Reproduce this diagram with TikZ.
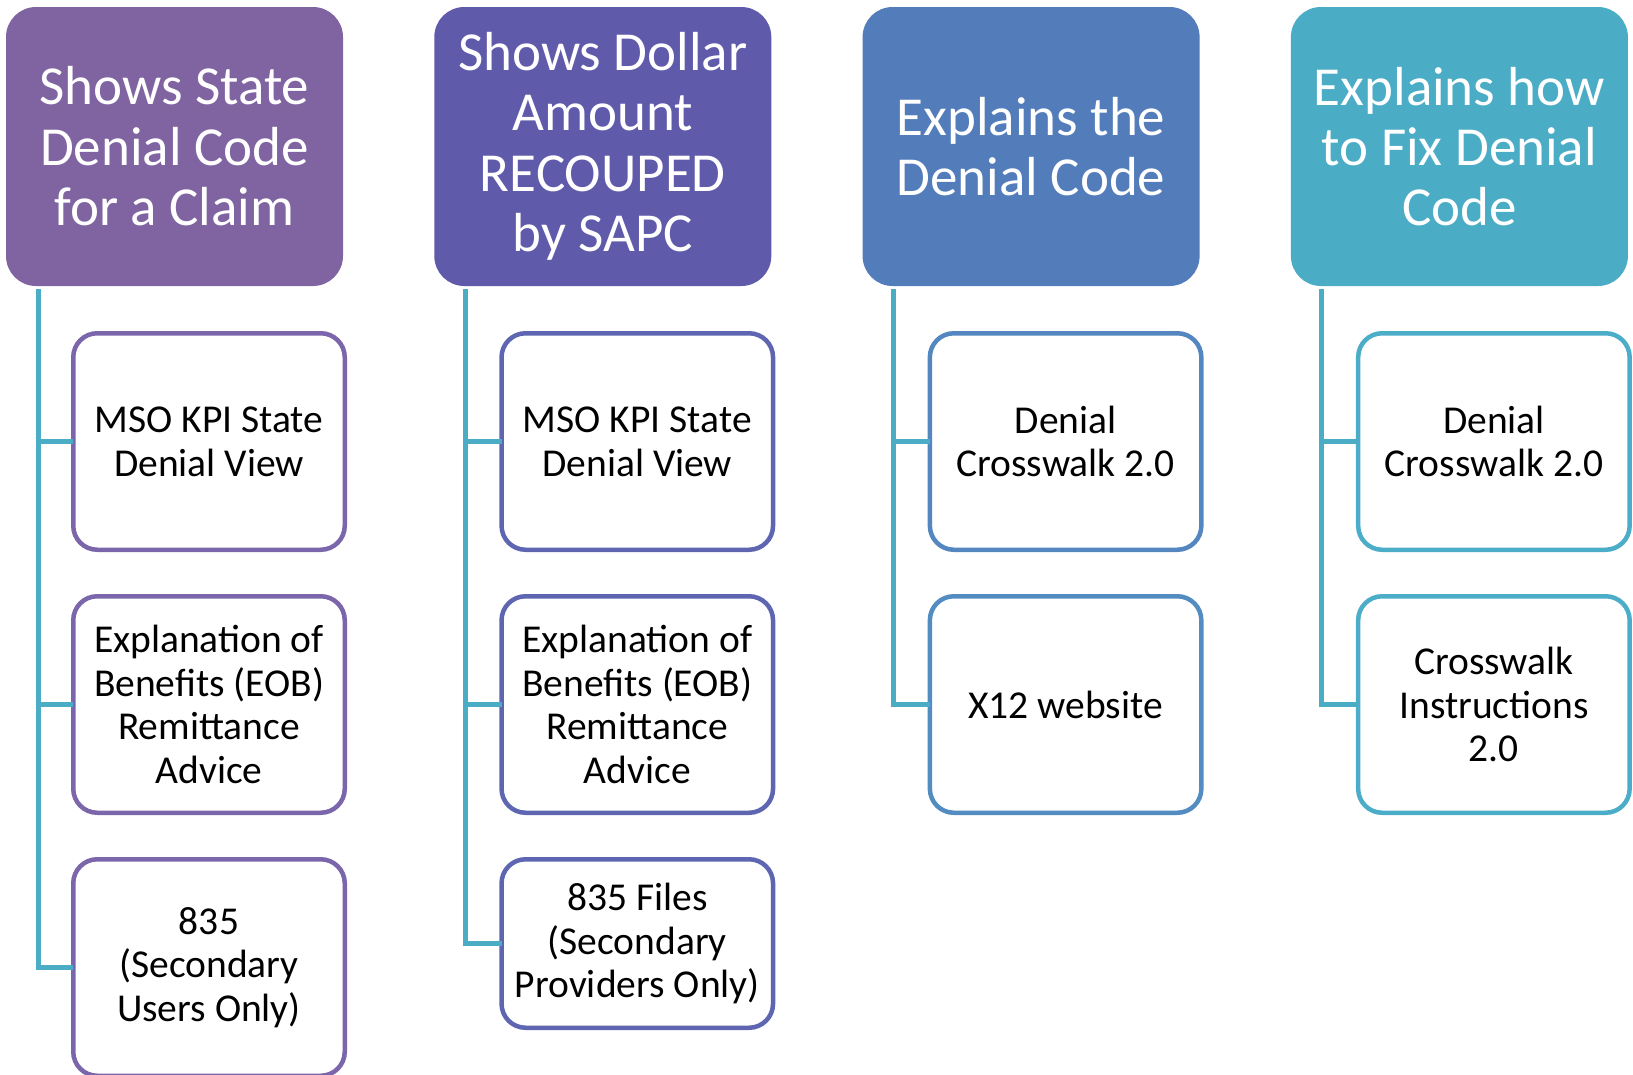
\documentclass[tikz,border=0pt]{standalone}
\usepackage{fontspec}
\setmainfont{Carlito}
\usetikzlibrary{positioning}

\definecolor{kopfA}{HTML}{8064A2}
\definecolor{kopfB}{HTML}{5F5BAA}
\definecolor{kopfC}{HTML}{537CBA}
\definecolor{kopfD}{HTML}{4BACC6}
\definecolor{randA}{HTML}{7C66AB}
\definecolor{randB}{HTML}{5E66B2}
\definecolor{randC}{HTML}{5486C0}
\definecolor{randD}{HTML}{4CADC8}
\definecolor{linie}{HTML}{4BACC6}

\begin{document}
\begin{tikzpicture}[x=1pt,y=1pt,
	kopf/.style={rectangle,rounded corners=30pt,minimum width=337pt,minimum height=279pt,
		inner sep=0pt,outer sep=0pt,text=white,align=center,
		font=\fontsize{55}{60.4}\selectfont},
	eintrag/.style={draw,rectangle,rounded corners=24pt,line width=4.5pt,fill=white,
		minimum width=271.5pt,minimum height=216.5pt,inner sep=0pt,outer sep=0pt,
		align=center,font=\fontsize{39.5}{43.7}\selectfont},
	link/.style={draw=linie,line width=5pt},
	node distance=46.5pt]

\useasboundingbox (0,0) rectangle (1633,-1074);

%-------------------------------------------------------------------------------
% Headers
%-------------------------------------------------------------------------------
\node (state)   [kopf,fill=kopfA] at (174.5,-146.5) {Shows State\\Denial Code\\for a Claim};
\node (dollar)  [kopf,fill=kopfB,right=91.3pt of state]  {Shows Dollar\\Amount\\RECOUPED\\by SAPC};
\node (explain) [kopf,fill=kopfC,right=91.3pt of dollar] {Explains the\\Denial Code};
\node (fix)     [kopf,fill=kopfD,right=91.3pt of explain] {Explains how\\to Fix Denial\\Code};

%-------------------------------------------------------------------------------
% State denial code
%-------------------------------------------------------------------------------
\node (statekpi) [eintrag,draw=randA,below right=47.25pt and 67.25pt of state.south west] {MSO KPI State\\Denial View};
\node (stateeob) [eintrag,draw=randA,below=of statekpi] {Explanation of\\Benefits (EOB)\\Remittance\\Advice};
\node (state835) [eintrag,draw=randA,below=of stateeob] {835\\(Secondary\\Users Only)};
\coordinate (statestem) at ([xshift=32pt,yshift=-3pt]state.south west);
\draw [link] (statestem) |- (statekpi.west);
\draw [link] (statestem) |- (stateeob.west);
\draw [link] (statestem) |- (state835.west);

%-------------------------------------------------------------------------------
% Dollar amount recouped
%-------------------------------------------------------------------------------
\node (dollarkpi) [eintrag,draw=randB,below right=47.25pt and 67.25pt of dollar.south west] {MSO KPI State\\Denial View};
\node (dollareob) [eintrag,draw=randB,below=of dollarkpi] {Explanation of\\Benefits (EOB)\\Remittance\\Advice};
\node (dollar835) [eintrag,draw=randB,below=of dollareob,minimum height=168.5pt] {835 Files\\(Secondary\\Providers Only)};
\coordinate (dollarstem) at ([xshift=31pt,yshift=-3pt]dollar.south west);
\draw [link] (dollarstem) |- (dollarkpi.west);
\draw [link] (dollarstem) |- (dollareob.west);
\draw [link] (dollarstem) |- (dollar835.west);

%-------------------------------------------------------------------------------
% Explaining the code
%-------------------------------------------------------------------------------
\node (explaincw)  [eintrag,draw=randC,below right=47.25pt and 67.25pt of explain.south west] {Denial\\Crosswalk 2.0};
\node (explainx12) [eintrag,draw=randC!85!linie,below=of explaincw] {X12 website};
\coordinate (explainstem) at ([xshift=31pt,yshift=-3pt]explain.south west);
\draw [link] (explainstem) |- (explaincw.west);
\draw [link] (explainstem) |- (explainx12.west);

%-------------------------------------------------------------------------------
% Fixing the code
%-------------------------------------------------------------------------------
\node (fixcw)   [eintrag,draw=randD,below right=47.25pt and 67.25pt of fix.south west] {Denial\\Crosswalk 2.0};
\node (fixinst) [eintrag,draw=randD,below=of fixcw] {Crosswalk\\Instructions\\2.0};
\coordinate (fixstem) at ([xshift=31pt,yshift=-3pt]fix.south west);
\draw [link] (fixstem) |- (fixcw.west);
\draw [link] (fixstem) |- (fixinst.west);
\end{tikzpicture}
\end{document}
